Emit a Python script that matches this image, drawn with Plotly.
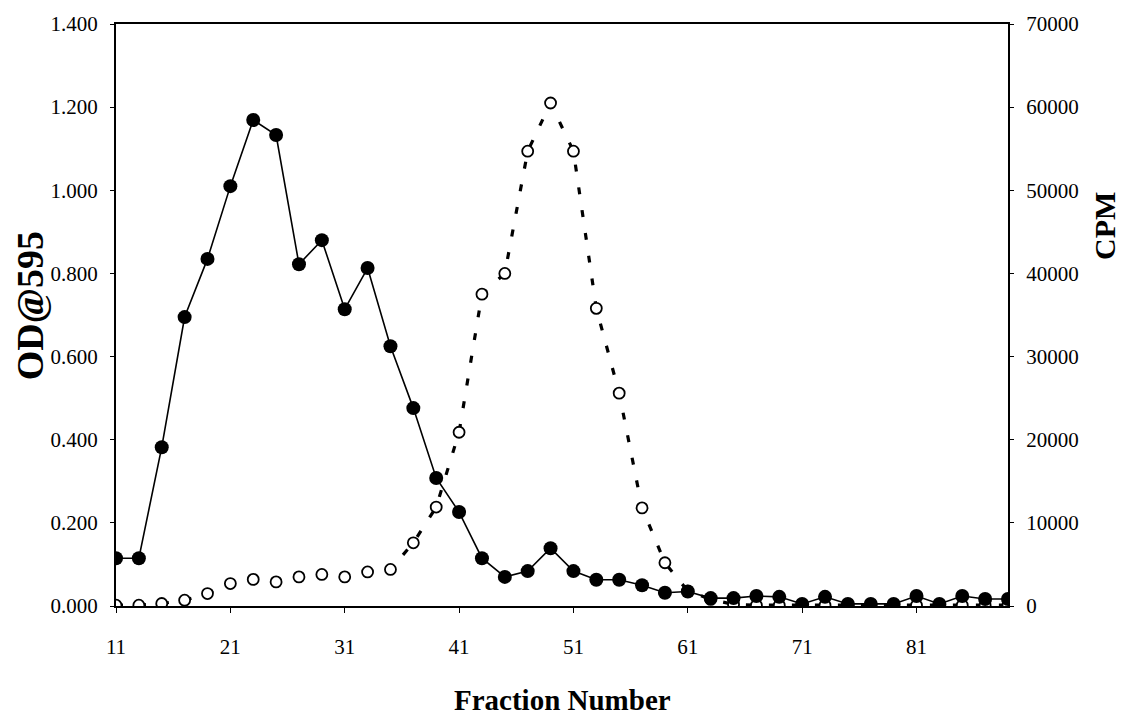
import plotly.graph_objects as go

fractions = list(range(11, 90, 2))
od595 = [0.115, 0.115, 0.382, 0.695, 0.835, 1.010, 1.169, 1.133, 0.822, 0.880,
         0.714, 0.813, 0.625, 0.476, 0.308, 0.226, 0.115, 0.070, 0.084, 0.139,
         0.084, 0.063, 0.063, 0.050, 0.032, 0.035, 0.019, 0.019, 0.024, 0.022,
         0.005, 0.022, 0.005, 0.005, 0.005, 0.024, 0.005, 0.024, 0.017, 0.017]
cpm = [100, 100, 300, 700, 1500, 2700, 3200, 2900, 3500, 3800,
       3500, 4100, 4400, 7600, 11900, 20900, 37500, 40000, 54700, 60500,
       54700, 35800, 25600, 11800, 5200, 1800, 800, 200, 100, 100,
       100, 100, 100, 100, 100, 100, 100, 100, 100, 100]
x_ticks = [11, 21, 31, 41, 51, 61, 71, 81]

FONT = "Liberation Serif"

fig = go.Figure()
fig.add_trace(go.Scatter(
    x=fractions, y=cpm, mode="lines+markers", yaxis="y",
    line=dict(color="black", width=3.2, dash="7px,16px"),
    marker=dict(symbol="circle", size=11, color="white",
                line=dict(color="black", width=1.8)),
    showlegend=False))
fig.add_trace(go.Scatter(
    x=fractions, y=od595, mode="lines+markers", yaxis="y2",
    line=dict(color="black", width=1.6),
    marker=dict(symbol="circle", size=14, color="black"),
    showlegend=False))

fig.update_layout(
    width=1121, height=718,
    margin=dict(l=116, r=113, t=24, b=112),
    paper_bgcolor="white", plot_bgcolor="white",
    font=dict(family=FONT, color="black", size=20),
    xaxis=dict(range=[11, 89], tickvals=x_ticks, showgrid=False, zeroline=False,
               showline=True, linecolor="black", linewidth=2, mirror=True,
               ticks="outside", ticklen=5, tickcolor="black",
               tickfont=dict(family=FONT, size=21), ticklabelstandoff=16),
    yaxis=dict(range=[0, 70000], dtick=10000, tickformat="d", side="right",
               showgrid=False, zeroline=False, showline=True, linecolor="black",
               linewidth=2, ticks="outside", ticklen=4, tickcolor="black",
               tickfont=dict(family=FONT, size=21), ticklabelstandoff=8),
    yaxis2=dict(range=[0, 1.4], dtick=0.2, tickformat=".3f", side="left",
                overlaying="y", showgrid=False, zeroline=False, showline=True,
                linecolor="black", linewidth=2, ticks="outside", ticklen=4,
                tickcolor="black", tickfont=dict(family=FONT, size=21),
                ticklabelstandoff=8),
    annotations=[
        dict(text="<b>OD@595</b>", xref="paper", yref="paper", x=-0.0964, y=0.515,
             textangle=-90, showarrow=False, xanchor="center", yanchor="middle",
             font=dict(family=FONT, size=38)),
        dict(text="<b>CPM</b>", xref="paper", yref="paper", x=1.1087, y=0.653,
             textangle=-90, showarrow=False, xanchor="center", yanchor="middle",
             font=dict(family=FONT, size=30)),
        dict(text="<b>Fraction Number</b>", xref="paper", yref="paper", x=0.5, y=-0.1615,
             showarrow=False, xanchor="center", yanchor="middle",
             font=dict(family=FONT, size=29)),
    ],
)

fig.write_html("out.html")
